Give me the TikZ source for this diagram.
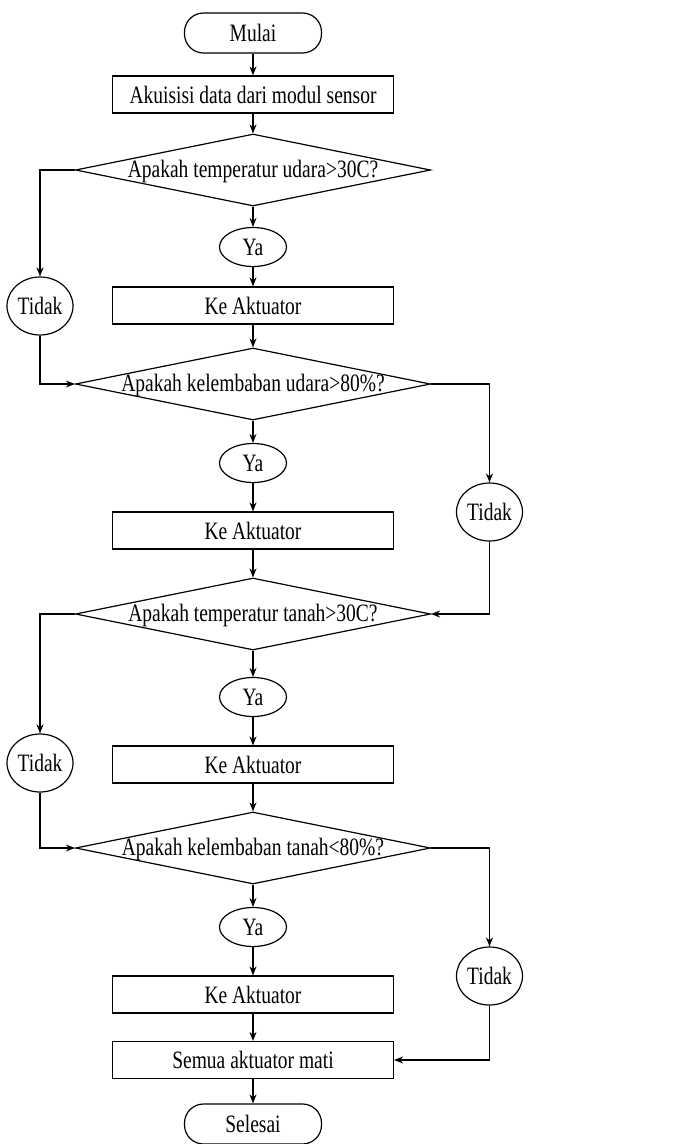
\documentclass[tikz,border=0pt]{standalone}
\usepackage{fontspec}
\setmainfont[FakeStretch=0.78]{Liberation Serif}
\usetikzlibrary{shapes.geometric}
\usetikzlibrary{arrows.meta}

\tikzset{
  base/.style={draw,line width=1.2pt,inner sep=0pt,font=\fontsize{25}{28}\selectfont},
  terminal/.style={base,rectangle,rounded corners=19pt,minimum width=137pt,minimum height=40pt},
  process/.style={base,rectangle,minimum width=281pt,minimum height=37pt},
  decision/.style={base,diamond,aspect=4.9,text height=14pt,text depth=-2pt,minimum width=355pt,minimum height=72pt},
  yabox/.style={base,ellipse,minimum width=67pt,minimum height=39pt},
  tidakbox/.style={base,ellipse,minimum width=66pt,minimum height=58pt},
  arr/.style={line width=1.2pt,-{Stealth[length=9pt,width=7pt]}},
}

\begin{document}
\begin{tikzpicture}[x=1pt,y=-1pt]
\useasboundingbox (0,0) rectangle (693,1144);
% main column
\node[terminal] (mulai) at (253,33) {Mulai};
\node[process] (akuisisi) at (253,94.5) {Akuisisi data dari modul sensor};
\node[decision] (d1) at (253,170) {Apakah temperatur udara>30C?};
\node[yabox] (ya1) at (253,247) {Ya};
\node[process] (ka1) at (253,305.5) {Ke Aktuator};
\node[decision] (d2) at (253,384) {Apakah kelembaban udara>80\%?};
\node[yabox] (ya2) at (253,463) {Ya};
\node[process] (ka2) at (253,530.5) {Ke Aktuator};
\node[decision] (d3) at (253,614) {Apakah temperatur tanah>30C?};
\node[yabox] (ya3) at (253,697) {Ya};
\node[process] (ka3) at (253,764.5) {Ke Aktuator};
\node[decision] (d4) at (253,848) {Apakah kelembaban tanah<80\%?};
\node[yabox] (ya4) at (253,927) {Ya};
\node[process] (ka4) at (253,994.5) {Ke Aktuator};
\node[process] (mati) at (253,1060) {Semua aktuator mati};
\node[terminal] (selesai) at (253,1124) {Selesai};
% side branches
\node[tidakbox] (t1) at (40,306) {Tidak};
\node[tidakbox] (t2) at (489.5,512) {Tidak};
\node[tidakbox] (t3) at (40,763) {Tidak};
\node[tidakbox] (t4) at (489.5,976) {Tidak};

\draw[arr] (mulai) -- (akuisisi);
\draw[arr] (akuisisi) -- (d1);
\draw[arr] (d1) -- (ya1);
\draw[arr] (ya1) -- (ka1);
\draw[arr] (ka1) -- (d2);
\draw[arr] (d2) -- (ya2);
\draw[arr] (ya2) -- (ka2);
\draw[arr] (ka2) -- (d3);
\draw[arr] (d3) -- (ya3);
\draw[arr] (ya3) -- (ka3);
\draw[arr] (ka3) -- (d4);
\draw[arr] (d4) -- (ya4);
\draw[arr] (ya4) -- (ka4);
\draw[arr] (ka4) -- (mati);
\draw[arr] (mati) -- (selesai);

\draw[arr] (d1.west) -| (t1.north);
\draw[arr] (t1.south) |- (d2.west);
\draw[arr] (d2.east) -| (t2.north);
\draw[arr] (t2.south) |- (d3.east);
\draw[arr] (d3.west) -| (t3.north);
\draw[arr] (t3.south) |- (d4.west);
\draw[arr] (d4.east) -| (t4.north);
\draw[arr] (t4.south) |- (mati.east);
\end{tikzpicture}
\end{document}
